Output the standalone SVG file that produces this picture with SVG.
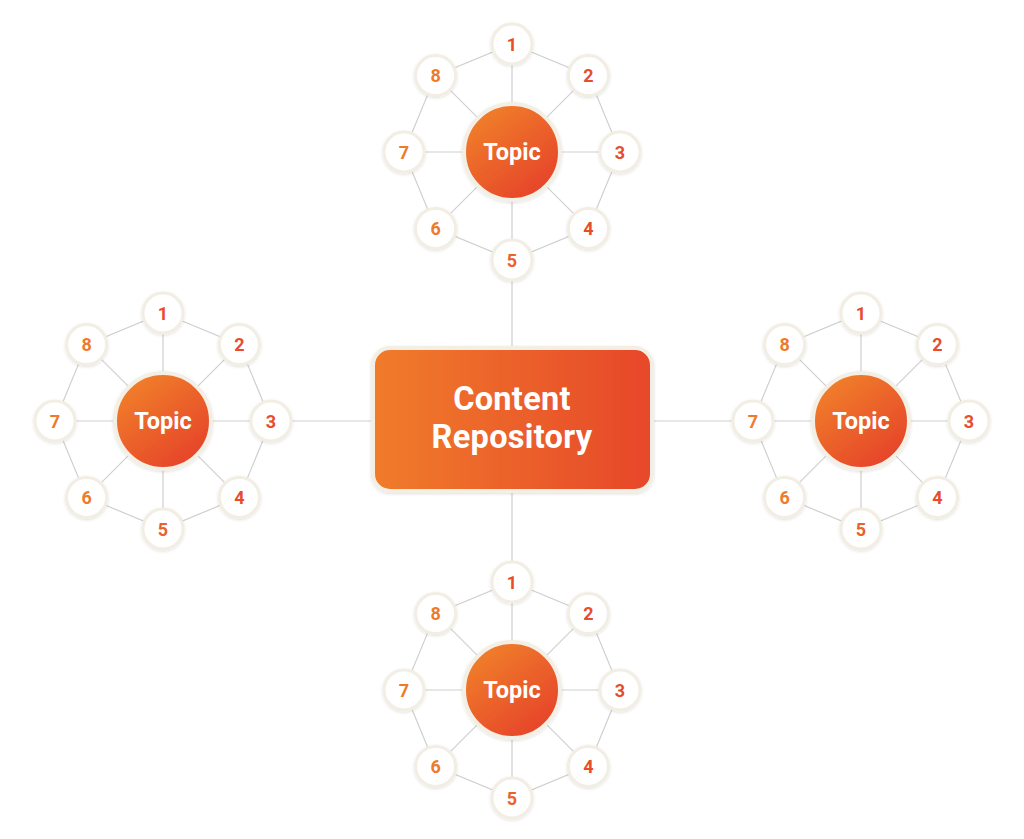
<svg xmlns="http://www.w3.org/2000/svg" xmlns:xlink="http://www.w3.org/1999/xlink" width="1024" height="839" viewBox="0 0 1024 839">
<defs>
<linearGradient id="gBox" x1="0" y1="0" x2="1" y2="0">
<stop offset="0" stop-color="#F07C2C"/><stop offset="1" stop-color="#E7472A"/>
</linearGradient>
<linearGradient id="gTopic" x1="0.2" y1="0.1" x2="0.8" y2="0.9">
<stop offset="0" stop-color="#F07D2C"/><stop offset="1" stop-color="#E6452A"/>
</linearGradient>
<filter id="sh" x="-20%" y="-20%" width="140%" height="140%">
<feDropShadow dx="0" dy="1" stdDeviation="1.5" flood-color="#000" flood-opacity="0.12"/>
</filter>
<g id="web" fill="none" stroke="#CFCFCF" stroke-width="1.2">
<polygon points="0,-108 76.4,-76.4 108,0 76.4,76.4 0,108 -76.4,76.4 -108,0 -76.4,-76.4"/>
<line x1="0" y1="-108" x2="0" y2="108"/>
<line x1="-108" y1="0" x2="108" y2="0"/>
<line x1="-76.4" y1="-76.4" x2="76.4" y2="76.4"/>
<line x1="76.4" y1="-76.4" x2="-76.4" y2="76.4"/>
</g>
</defs>
<style>
.sat{fill:#FFFFFF;stroke:#F2EEE3;stroke-width:3;filter:url(#sh)}
.topic{fill:url(#gTopic);stroke:#F3EFE4;stroke-width:4;filter:url(#sh)}
.num{font-family:Roboto,"Liberation Sans",sans-serif;font-weight:700;font-size:18px;text-anchor:middle}
.o{fill:#EF7A2C}.m{fill:#EC612B}.r{fill:#E84C2A}
.tt{font-family:Roboto,"Liberation Sans",sans-serif;font-weight:700;font-size:23.5px;fill:#FFFFFF;text-anchor:middle}
.ct{font-family:Roboto,"Liberation Sans",sans-serif;font-weight:700;font-size:32.5px;fill:#FFFFFF;text-anchor:middle;letter-spacing:0.3px}
</style>
<rect width="1024" height="839" fill="#FFFFFF"/>
<g id="connectors">
<use xlink:href="#web" transform="translate(512,152)"/>
<use xlink:href="#web" transform="translate(163,421)"/>
<use xlink:href="#web" transform="translate(861,421)"/>
<use xlink:href="#web" transform="translate(512,690)"/>
<g stroke="#CFCFCF" stroke-width="1.2">
<line x1="512" y1="280" x2="512" y2="348"/>
<line x1="289" y1="421" x2="373" y2="421"/>
<line x1="652" y1="421" x2="735" y2="421"/>
<line x1="512" y1="491" x2="512" y2="564"/>
</g>
</g>
<g id="center">
<rect x="373" y="348" width="279" height="143" rx="17" fill="url(#gBox)" stroke="#F3EFE4" stroke-width="4" filter="url(#sh)"/>
<text class="ct" x="512" y="410">Content</text>
<text class="ct" x="512" y="448">Repository</text>
</g>
<!-- top cluster -->
<g id="top-topic"><circle class="topic" cx="512" cy="152" r="48"/><text class="tt" x="512" y="160">Topic</text></g>
<g id="top-1"><circle class="sat" cx="512" cy="44" r="20"/><text class="num r" x="512" y="50.5">1</text></g>
<g id="top-2"><circle class="sat" cx="588.4" cy="75.6" r="20"/><text class="num r" x="588.4" y="82.1">2</text></g>
<g id="top-3"><circle class="sat" cx="620" cy="152" r="20"/><text class="num r" x="620" y="158.5">3</text></g>
<g id="top-4"><circle class="sat" cx="588.4" cy="228.4" r="20"/><text class="num r" x="588.4" y="234.9">4</text></g>
<g id="top-5"><circle class="sat" cx="512" cy="260" r="20"/><text class="num m" x="512" y="266.5">5</text></g>
<g id="top-6"><circle class="sat" cx="435.6" cy="228.4" r="20"/><text class="num o" x="435.6" y="234.9">6</text></g>
<g id="top-7"><circle class="sat" cx="404" cy="152" r="20"/><text class="num o" x="404" y="158.5">7</text></g>
<g id="top-8"><circle class="sat" cx="435.6" cy="75.6" r="20"/><text class="num o" x="435.6" y="82.1">8</text></g>
<!-- left cluster -->
<g id="left-topic"><circle class="topic" cx="163" cy="421" r="48"/><text class="tt" x="163" y="429">Topic</text></g>
<g id="left-1"><circle class="sat" cx="163" cy="313" r="20"/><text class="num r" x="163" y="319.5">1</text></g>
<g id="left-2"><circle class="sat" cx="239.4" cy="344.6" r="20"/><text class="num r" x="239.4" y="351.1">2</text></g>
<g id="left-3"><circle class="sat" cx="271" cy="421" r="20"/><text class="num r" x="271" y="427.5">3</text></g>
<g id="left-4"><circle class="sat" cx="239.4" cy="497.4" r="20"/><text class="num r" x="239.4" y="503.9">4</text></g>
<g id="left-5"><circle class="sat" cx="163" cy="529" r="20"/><text class="num m" x="163" y="535.5">5</text></g>
<g id="left-6"><circle class="sat" cx="86.6" cy="497.4" r="20"/><text class="num o" x="86.6" y="503.9">6</text></g>
<g id="left-7"><circle class="sat" cx="55" cy="421" r="20"/><text class="num o" x="55" y="427.5">7</text></g>
<g id="left-8"><circle class="sat" cx="86.6" cy="344.6" r="20"/><text class="num o" x="86.6" y="351.1">8</text></g>
<!-- right cluster -->
<g id="right-topic"><circle class="topic" cx="861" cy="421" r="48"/><text class="tt" x="861" y="429">Topic</text></g>
<g id="right-1"><circle class="sat" cx="861" cy="313" r="20"/><text class="num r" x="861" y="319.5">1</text></g>
<g id="right-2"><circle class="sat" cx="937.4" cy="344.6" r="20"/><text class="num r" x="937.4" y="351.1">2</text></g>
<g id="right-3"><circle class="sat" cx="969" cy="421" r="20"/><text class="num r" x="969" y="427.5">3</text></g>
<g id="right-4"><circle class="sat" cx="937.4" cy="497.4" r="20"/><text class="num r" x="937.4" y="503.9">4</text></g>
<g id="right-5"><circle class="sat" cx="861" cy="529" r="20"/><text class="num m" x="861" y="535.5">5</text></g>
<g id="right-6"><circle class="sat" cx="784.6" cy="497.4" r="20"/><text class="num o" x="784.6" y="503.9">6</text></g>
<g id="right-7"><circle class="sat" cx="753" cy="421" r="20"/><text class="num o" x="753" y="427.5">7</text></g>
<g id="right-8"><circle class="sat" cx="784.6" cy="344.6" r="20"/><text class="num o" x="784.6" y="351.1">8</text></g>
<!-- bottom cluster -->
<g id="bottom-topic"><circle class="topic" cx="512" cy="690" r="48"/><text class="tt" x="512" y="698">Topic</text></g>
<g id="bottom-1"><circle class="sat" cx="512" cy="582" r="20"/><text class="num r" x="512" y="588.5">1</text></g>
<g id="bottom-2"><circle class="sat" cx="588.4" cy="613.6" r="20"/><text class="num r" x="588.4" y="620.1">2</text></g>
<g id="bottom-3"><circle class="sat" cx="620" cy="690" r="20"/><text class="num r" x="620" y="696.5">3</text></g>
<g id="bottom-4"><circle class="sat" cx="588.4" cy="766.4" r="20"/><text class="num r" x="588.4" y="772.9">4</text></g>
<g id="bottom-5"><circle class="sat" cx="512" cy="798" r="20"/><text class="num m" x="512" y="804.5">5</text></g>
<g id="bottom-6"><circle class="sat" cx="435.6" cy="766.4" r="20"/><text class="num o" x="435.6" y="772.9">6</text></g>
<g id="bottom-7"><circle class="sat" cx="404" cy="690" r="20"/><text class="num o" x="404" y="696.5">7</text></g>
<g id="bottom-8"><circle class="sat" cx="435.6" cy="613.6" r="20"/><text class="num o" x="435.6" y="620.1">8</text></g>
</svg>
